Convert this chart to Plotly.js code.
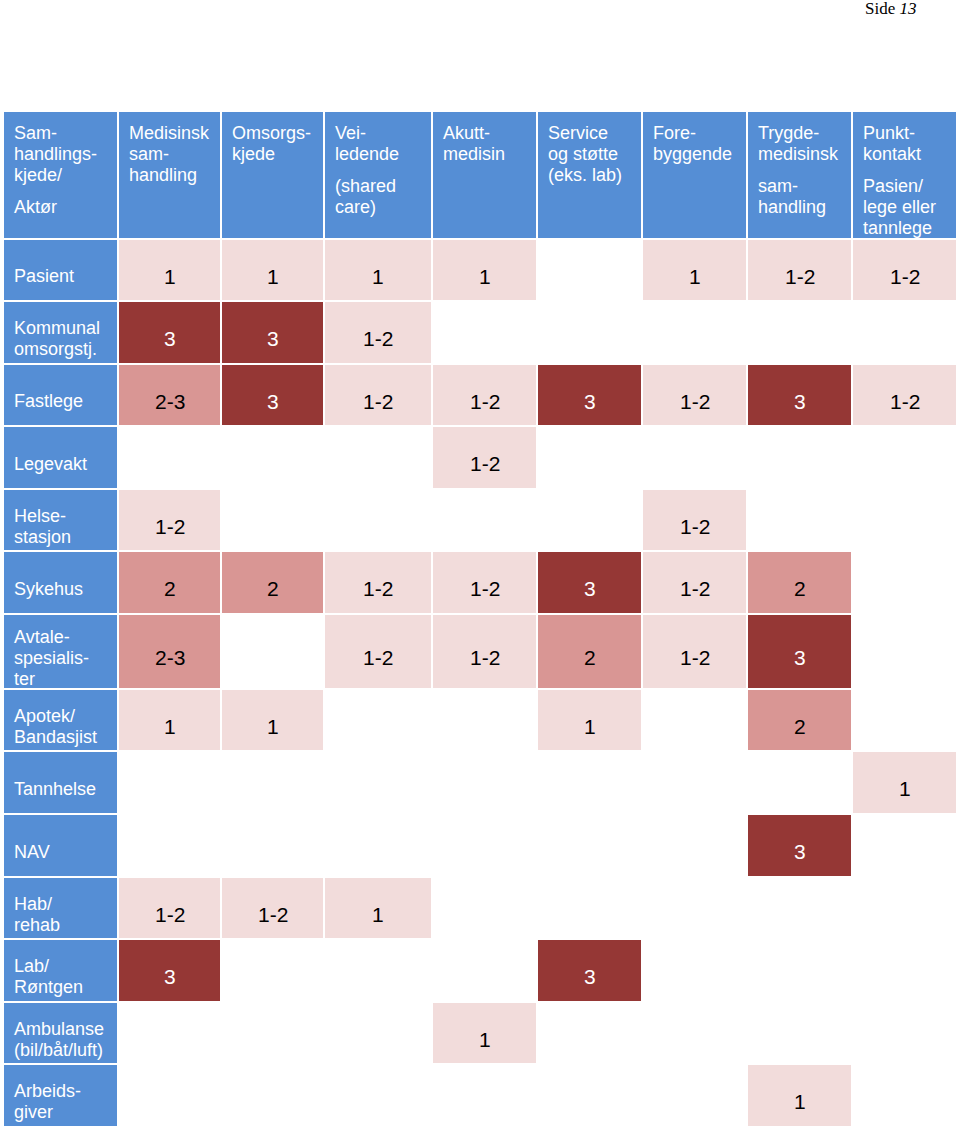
<!DOCTYPE html>
<html><head><meta charset="utf-8">
<script src="https://cdn.plot.ly/plotly-3.0.1.min.js"></script>
<style>html,body{margin:0;padding:0;background:#fff;}#chart{width:960px;height:1128px;}</style>
</head><body><div id="chart"></div>
<script>
// ---------- data ----------
const cornerLabel = [["Sam-","handlings-","kjede/"],["Aktør"]];
const columnLabels = [
  [["Medisinsk","sam-","handling"]],
  [["Omsorgs-","kjede"]],
  [["Vei-","ledende"],["(shared","care)"]],
  [["Akutt-","medisin"]],
  [["Service","og støtte","(eks. lab)"]],
  [["Fore-","byggende"]],
  [["Trygde-","medisinsk"],["sam-","handling"]],
  [["Punkt-","kontakt"],["Pasien/","lege eller","tannlege"]]
];
const actors = [["Pasient"],["Kommunal","omsorgstj."],["Fastlege"],["Legevakt"],["Helse-","stasjon"],
  ["Sykehus"],["Avtale-","spesialis-","ter"],["Apotek/","Bandasjist"],["Tannhelse"],["NAV"],
  ["Hab/","rehab"],["Lab/","Røntgen"],["Ambulanse","(bil/båt/luft)"],["Arbeids-","giver"]];

const pasient       = ["1","1","1","1","","1","1-2","1-2"];
const kommunal      = ["3","3","1-2","","","","",""];
const fastlege      = ["2-3","3","1-2","1-2","3","1-2","3","1-2"];
const legevakt      = ["","","","1-2","","","",""];
const helsestasjon  = ["1-2","","","","","1-2","",""];
const sykehus       = ["2","2","1-2","1-2","3","1-2","2",""];
const avtale        = ["2-3","","1-2","1-2","2","1-2","3",""];
const apotek        = ["1","1","","","1","","2",""];
const tannhelse     = ["","","","","","","","1"];
const nav           = ["","","","","","","3",""];
const habRehab      = ["1-2","1-2","1","","","","",""];
const labRontgen    = ["3","","","","3","","",""];
const ambulanse     = ["","","","1","","","",""];
const arbeidsgiver  = ["","","","","","","1",""];
const values = [pasient,kommunal,fastlege,legevakt,helsestasjon,sykehus,avtale,apotek,
  tannhelse,nav,habRehab,labRontgen,ambulanse,arbeidsgiver];

// ---------- layout constants ----------
const x0 = 3, y0 = 111;
const colWidths  = [115,103,103,108,105,105,105,105,105];
const rowHeights = [128,62,63,62,63,62,63,75,62,63,63,62,63,62,63];
const C_WHITE="#ffffff", C_LIGHT="#F2DCDB", C_MED="#D99694", C_DARK="#953735", C_BLUE="#558ED5";
const FONT = "Liberation Sans, Arial, sans-serif";
const LINE = 21, PARA = 11, PADX = 8.5, DY = 6;

const xEdges=[x0]; colWidths.forEach(w=>xEdges.push(xEdges[xEdges.length-1]+w));
const yEdges=[y0]; rowHeights.forEach(h=>yEdges.push(yEdges[yEdges.length-1]+h));
const xCenter = i => (xEdges[i]+xEdges[i+1])/2;
const yCenter = j => (yEdges[j]+yEdges[j+1])/2;

function level(v){
  if(v==="") return 0;
  if(v==="1"||v==="1-2") return 1;
  if(v==="2"||v==="2-3") return 2;
  return 3;
}
const z=[];
z.push(new Array(colWidths.length).fill(4));
values.forEach(r=>{ z.push([4].concat(r.map(level))); });

const heat = {
  type:"heatmap", x:xEdges, y:yEdges, z:z, zmin:0, zmax:4,
  colorscale:[[0,C_WHITE],[0.125,C_WHITE],[0.125,C_LIGHT],[0.375,C_LIGHT],[0.375,C_MED],
              [0.625,C_MED],[0.625,C_DARK],[0.875,C_DARK],[0.875,C_BLUE],[1,C_BLUE]],
  showscale:false, xgap:2, ygap:2, hoverinfo:"skip"
};

const ann=[];
function headerCell(paras, col){
  let k=0;
  paras.forEach((lines,p)=>{
    lines.forEach(t=>{
      ann.push({x:xEdges[col]+PADX, y:y0+22+k*LINE+p*PARA, xref:"x", yref:"y", text:t,
        showarrow:false, xanchor:"left", yanchor:"middle",
        font:{family:FONT,size:18,color:"#ffffff"}});
      k++;
    });
  });
}
headerCell(cornerLabel,0);
columnLabels.forEach((paras,i)=>headerCell(paras,i+1));
actors.forEach((lines,j)=>{
  const cy=yCenter(j+1)+DY, n=lines.length;
  lines.forEach((t,i)=>{
    ann.push({x:xEdges[0]+PADX, y:cy+(i-(n-1)/2)*LINE, xref:"x", yref:"y", text:t,
      showarrow:false, xanchor:"left", yanchor:"middle",
      font:{family:FONT,size:18,color:"#ffffff"}});
  });
});
values.forEach((r,j)=>{
  r.forEach((v,i)=>{
    if(v==="") return;
    ann.push({x:xCenter(i+1), y:yCenter(j+1)+DY, xref:"x", yref:"y", text:v,
      showarrow:false, xanchor:"center", yanchor:"middle",
      font:{family:FONT,size:21,color: level(v)===3?"#ffffff":"#000000"}});
  });
});
ann.push({x:0.899, y:1, xref:"paper", yref:"paper", xanchor:"left", yanchor:"top",
  text:"Side <i>13</i>", showarrow:false, yshift:3,
  font:{family:"Liberation Serif, Times New Roman, serif", size:17, color:"#000"}});

const layout = {
  width:960, height:1128, margin:{l:0,r:0,t:0,b:0},
  paper_bgcolor:"#ffffff", plot_bgcolor:"#ffffff",
  xaxis:{range:[0,960], visible:false, fixedrange:true},
  yaxis:{range:[1128,0], visible:false, fixedrange:true},
  annotations:ann, showlegend:false
};
Plotly.newPlot("chart",[heat],layout,{displayModeBar:false,staticPlot:true});
</script></body></html>
